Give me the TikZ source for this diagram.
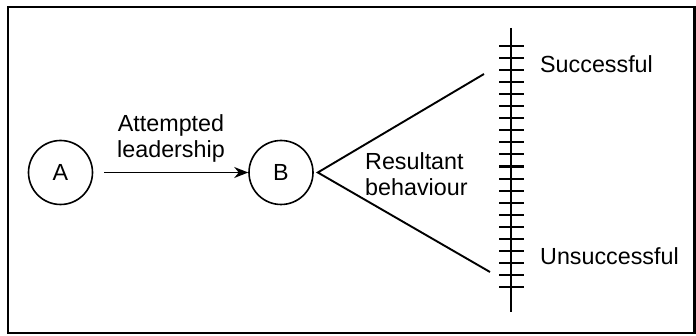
\documentclass[tikz,border=0pt]{standalone}
\usepackage{fontspec}
\setmainfont{Liberation Sans}
\usetikzlibrary{arrows.meta}
\begin{document}
\begin{tikzpicture}[x=1pt,y=-1pt,
  lbl/.style={inner sep=0pt,font=\fontsize{23.3}{26}\selectfont},
  agent/.style={circle,draw,line width=1.6pt,minimum size=64pt,inner sep=0pt,font=\fontsize{23.3}{26}\selectfont},
  conn/.style={line width=1.9pt},
  tick/.style={line width=2.1pt}]
\useasboundingbox (0,0) rectangle (696,336);
\draw[line width=2.2pt] (8,7) rectangle (694.5,333);
\node[agent] (A) at (60.5,172.5) {A};
\node[agent] (B) at (281,172.5) {B};
\draw[conn,-{Stealth[length=14pt,width=11pt]}] ([xshift=11pt]A.east) -- (B.west);
\node[lbl,align=center,anchor=north] (att) at (171,114) {Attempted\\leadership};
\node[lbl,align=left,anchor=north west] (res) at (365,152) {Resultant\\behaviour};
% scale
\coordinate (top) at (511,28);
\coordinate (bot) at (511,312);
\draw[line width=2.3pt] (top) -- (bot);
\foreach \k in {0,...,20}{
  \draw[tick] (499,45.7+12.08*\k) -- (524,45.7+12.08*\k);
}
\coordinate (s1) at (484,74);
\coordinate (s2) at (490,272);
\coordinate (apex) at ([xshift=4pt]B.east);
\draw[conn] (s1) -- (apex) -- (s2);
\node[lbl,anchor=base west] (succ) at (540,73) {Successful};
\node[lbl,anchor=base west] (unsucc) at (540,265) {Unsuccessful};
\end{tikzpicture}
\end{document}
